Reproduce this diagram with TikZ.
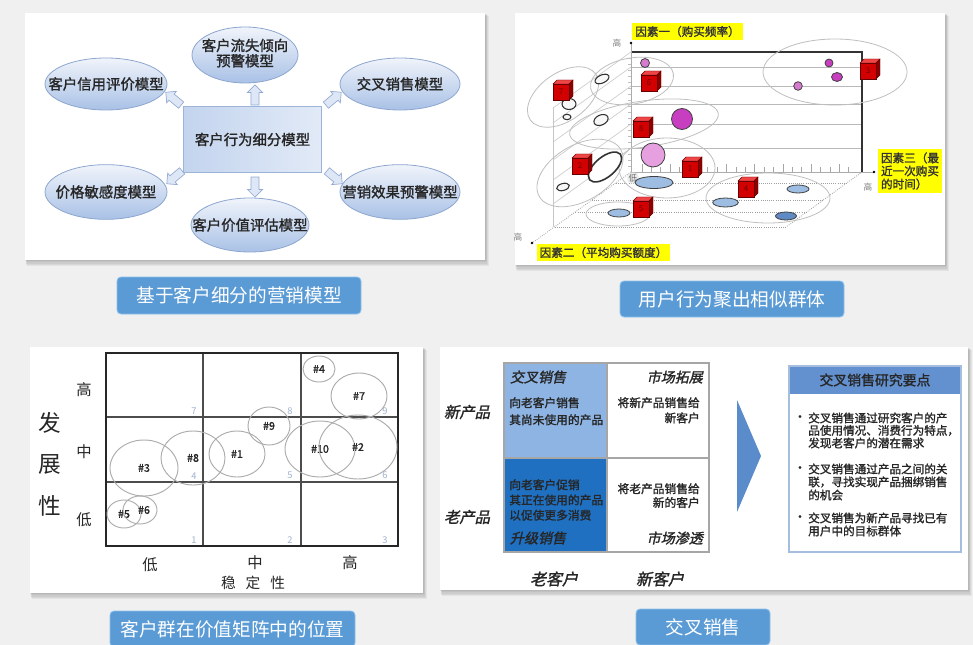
\documentclass[tikz,border=0pt]{standalone}
\usepackage{fontspec}
\setmainfont{Noto Sans CJK SC}[AutoFakeBold=1.5,AutoFakeSlant=0.22]
\newfontfamily\bulletfont{DejaVu Sans}
\usetikzlibrary{shapes.geometric,shapes.arrows}
\definecolor{bgc}{HTML}{F0F0F0}
\definecolor{btnc}{HTML}{5B9BD5}
\definecolor{btnline}{HTML}{8CC0EE}
\definecolor{elltop}{HTML}{F0F4FB}
\definecolor{ellbot}{HTML}{A9C1E6}
\definecolor{elldraw}{HTML}{8DA6CF}
\definecolor{recta}{HTML}{C3D4EE}
\definecolor{rectb}{HTML}{E2EAF7}
\definecolor{rectdraw}{HTML}{9DB3D8}
\definecolor{arrfill}{HTML}{DEE7F6}
\definecolor{arrdraw}{HTML}{93AAD2}
\definecolor{ylw}{HTML}{FFFF00}
\definecolor{cubered}{HTML}{D20000}
\definecolor{cubetop}{HTML}{F04545}
\definecolor{cubeside}{HTML}{8E0000}
\definecolor{pinkA}{HTML}{C83EC0}
\definecolor{pinkB}{HTML}{E6A0E0}
\definecolor{pinkC}{HTML}{D67AD0}
\definecolor{blueE}{HTML}{9DBDE3}
\definecolor{blueD}{HTML}{5F8AC4}
\definecolor{lightblue}{HTML}{8DB4E2}
\definecolor{darkblue}{HTML}{1F70C1}
\definecolor{chev}{HTML}{5A8BCB}
\definecolor{hdr}{HTML}{6391D0}
\definecolor{boxline}{HTML}{A5BEE0}
\definecolor{cellnum}{HTML}{9FB3CF}
\tikzset{pics/cube/.style={code={
  \filldraw[fill=cubetop, draw=black!60!red, line width=0.3pt] (-10,-6) -- (-6,-10) -- (10,-10) -- (6,-6) -- cycle;
  \filldraw[fill=cubeside, draw=black!60!red, line width=0.3pt] (6,-6) -- (10,-10) -- (10,6) -- (6,10) -- cycle;
  \filldraw[fill=cubered, draw=black!60!red, line width=0.3pt] (-10,-6) rectangle (6,10);
  \node[font=\fontsize{6}{6}\selectfont, text=black!55!red, inner sep=0pt] (n) at (-2,2) {#1};
}}}
\begin{document}
\begin{tikzpicture}[x=0.75pt,y=-0.75pt,
  ell/.style={ellipse, draw=elldraw, line width=0.6pt, top color=elltop, bottom color=ellbot, inner sep=0pt, font=\fontsize{10.8}{13.5}\selectfont\bfseries, text=black!85},
  ctr/.style={rectangle, draw=rectdraw, line width=0.6pt, left color=recta, right color=rectb, inner sep=0pt, font=\fontsize{10.8}{13.5}\selectfont\bfseries, text=black!85},
  barrow/.style={single arrow, draw=arrdraw, fill=arrfill, line width=0.5pt, inner sep=2.8pt, single arrow head extend=2.6pt, minimum height=15pt},
  btn/.style={rectangle, rounded corners=3pt, fill=btnc, draw=btnline, line width=0.6pt, text=white, font=\fontsize{14}{16}\selectfont, inner sep=0pt},
  ylab/.style={fill=ylw, inner sep=2.2pt, font=\fontsize{8.7}{10}\selectfont\bfseries, text=black!80},
  hi/.style={font=\fontsize{6.5}{7}\selectfont, text=gray, inner sep=0pt},
  clu/.style={draw=gray!50, line width=0.6pt},
  ring/.style={draw=black!80, line width=0.8pt, fill=gray!6},
  pk/.style={draw=black!75, line width=0.6pt},
  be/.style={draw=black!75, line width=0.6pt, fill=blueE},
  grp/.style={ellipse, draw=gray!65, line width=0.7pt, inner sep=0pt, font=\fontsize{8}{9}\selectfont\bfseries, text=black!85},
  ax/.style={font=\fontsize{11.5}{13}\selectfont, text=black!85, inner sep=0pt},
  cn/.style={font=\fontsize{7}{8}\selectfont, text=cellnum, inner sep=0pt},
  cellA/.style={font=\fontsize{8.8}{12.75}\selectfont\bfseries, text=black!85, inner sep=0pt},
  cellB/.style={font=\fontsize{8.8}{11.4}\selectfont\bfseries, text=black!85, inner sep=0pt},
  cellC/.style={font=\fontsize{8.8}{10.4}\selectfont\bfseries, text=black!85, inner sep=0pt},
  chd/.style={font=\fontsize{10.5}{12}\selectfont\bfseries\itshape, text=black!85, inner sep=0pt},
  rl/.style={font=\fontsize{11.5}{13}\selectfont\bfseries\itshape, text=black!85, inner sep=0pt},
  bl/.style={font=\fontsize{8.7}{10}\selectfont\bfseries, text=black!85, inner sep=0pt, anchor=west},
  bul/.style={font=\bulletfont\fontsize{7}{8}\selectfont, text=black!85, inner sep=0pt},
]
\useasboundingbox (0,0) rectangle (973,645);
\fill[bgc] (0,0) rectangle (973,645);
% panels with soft shadows
\foreach \a/\b/\c/\d in {25/13/485/260,515/13/945/265,30/347/423/593,440/347/968/590}{
  \foreach \k in {1,...,5}{\fill[black,opacity=0.05] (\a+0.3*\k,\b+0.6*\k) rectangle (\c+0.8*\k,\d+1.2*\k);}
  \fill[white] (\a,\b) rectangle (\c,\d);
}

% ================= Panel 1 =================
\node[ctr, minimum width=104pt, minimum height=49pt] (c) at (252.5,139.5) {客户行为细分模型};
\node[ell, minimum width=79.5pt, minimum height=42pt] (e1) at (245,55) {\makebox[0pt]{\begin{tabular}{@{}c@{}}客户流失倾向\\[-2pt]预警模型\end{tabular}}};
\node[ell, minimum width=91.5pt, minimum height=39pt] (e2) at (106,84) {\makebox[0pt]{客户信用评价模型}};
\node[ell, minimum width=90pt, minimum height=39pt] (e3) at (400,84) {\makebox[0pt]{交叉销售模型}};
\node[ell, minimum width=91.5pt, minimum height=41pt] (e4) at (106,192) {\makebox[0pt]{价格敏感度模型}};
\node[ell, minimum width=90pt, minimum height=41pt] (e5) at (400,192) {\makebox[0pt]{营销效果预警模型}};
\node[ell, minimum width=88.5pt, minimum height=40.5pt] (e6) at (250,225) {\makebox[0pt]{客户价值评估模型}};
\node[barrow, rotate=90] (au) at (255,97) {};
\node[barrow, rotate=270] (ad) at (255,185) {};
\node[barrow, rotate=140] (aul) at (175,100) {};
\node[barrow, rotate=40] (aur) at (332,100) {};
\node[barrow, rotate=220] (adl) at (176,176) {};
\node[barrow, rotate=320] (adr) at (333,176) {};

% ================= Panel 2 =================
\foreach \yy in {52,67,86,104,124,148} \draw[gray!40, line width=0.5pt] (631,\yy) -- ++(-78,56);
\draw[gray!45, line width=0.5pt] (553,108) -- (553,227);
\draw[gray!75, densely dotted, line width=0.6pt] (631,172) -- (532,243);
\draw[gray!75, densely dotted, line width=0.6pt] (862,172) -- (786,227);
\foreach \yy in {183,200,212,227} \draw[gray!75, densely dotted, line width=0.6pt] ({631-1.39*(\yy-172)},\yy) -- ({862-1.39*(\yy-172)},\yy);
\foreach \yy in {67,86,104,124,148} \draw[gray!55, line width=0.6pt] (631,\yy) -- (862,\yy);
\draw[black!80, line width=1.3pt] (631,52) -- (862,52) -- (862,172);
\draw[gray!65, line width=0.6pt] (631,43) -- (631,172) -- (874,172);
\foreach \yy in {58,64,...,170} \draw[gray!50, line width=0.4pt] (628,\yy) -- (631,\yy);
\foreach \i in {0,...,22}{
  \pgfmathsetmacro{\th}{mod(\i,3)==0 ? 8 : 5}
  \draw[gray!70, line width=0.5pt] (642+9.4*\i,172) -- ++(0,-\th);
}
\fill[black] (631,43) circle (1.3);
\fill[black] (874,172) circle (1.3);
\fill[black] (532,243) circle (1.3);
\node[hi] (h1) at (617,43) {高};
\node[hi] (h3) at (868,187) {高};
\node[hi] (h2) at (518,237) {高};
% clusters
\draw[clu, rotate around={35:(563,97)}] (563,97) ellipse [x radius=40, y radius=24];
\draw[clu, rotate around={10:(632,81)}] (632,81) ellipse [x radius=42, y radius=23];
\draw[clu, rotate around={8:(644,124)}] (644,124) ellipse [x radius=75, y radius=23];
\draw[clu, rotate around={30:(580,173)}] (580,173) ellipse [x radius=47, y radius=28];
\draw[clu] (667,168) ellipse [x radius=48, y radius=30];
\draw[clu] (618,214) ellipse [x radius=32, y radius=12];
\draw[clu] (768,198) ellipse [x radius=62, y radius=25];
\draw[clu] (835,72) ellipse [x radius=72, y radius=33];
% items
\draw[ring] (569,104) ellipse [x radius=7, y radius=5.5];
\draw[ring] (567,117) ellipse [x radius=4, y radius=2.7];
\draw[ring, rotate around={25:(602,79)}] (602,79) ellipse [x radius=7.5, y radius=4];
\draw[ring, rotate around={25:(601,120)}] (601,120) ellipse [x radius=7.5, y radius=5];
\draw[ring, line width=1.2pt, fill=white, rotate around={40:(605,167)}] (605,167) ellipse [x radius=20, y radius=10];
\draw[ring, rotate around={15:(563,187)}] (563,187) ellipse [x radius=6.5, y radius=3.5];
\draw[pk, fill=pinkC] (645,63) circle (4.5);
\draw[pk, fill=pinkA] (682,119) circle (10.5);
\draw[pk, fill=pinkB] (653,155) circle (12);
\draw[pk, fill=pinkA] (829,63) circle (4);
\draw[pk, fill=pinkA] (837,77) ellipse [x radius=5.5, y radius=4.5];
\draw[pk, fill=pinkC] (798,86) circle (4.3);
\node[fill=gray!15, rounded corners=3pt, inner sep=1pt, font=\fontsize{6.5}{7}\selectfont, text=gray!80!black] (low) at (633,178) {低};
\draw[be] (654,182.5) ellipse [x radius=19, y radius=6];
\draw[be] (619,213) ellipse [x radius=11, y radius=4];
\draw[be] (798,189) ellipse [x radius=11, y radius=4];
\draw[be] (725.5,202.5) ellipse [x radius=12.8, y radius=4.5];
\draw[be, fill=blueD] (786,216) ellipse [x radius=10.5, y radius=4];
\pic (k7) at (563,90) {cube=7};
\pic (k6) at (651,81) {cube=6};
\pic (k8) at (643,127) {cube=8};
\pic (k2) at (582,164) {cube=2};
\pic (k1) at (692,167) {cube=1};
\pic (k5) at (643,207) {cube=5};
\pic (k4) at (748,187) {cube=4};
\pic (k3) at (870,69) {cube=3};
\node[ylab] (f1) at (687.5,31.5) {因素一（购买频率）};
\node[ylab] (f2) at (603.5,252.5) {因素二（平均购买额度）};
\node[ylab, align=left, font=\fontsize{8.7}{9.8}\selectfont\bfseries] (f3) at (910,171) {因素三（最\\近一次购买\\的时间）};

% ================= Panel 3 =================
\draw[black!70, line width=0.8pt] (203,353) -- (203,546) (301,353) -- (301,546) (106,417) -- (398,417) (106,482) -- (398,482);
\draw[black!85, line width=1.6pt] (106,353) rectangle (398,546);
\node[cn] (n7) at (194,411) {7};
\node[cn] (n8) at (290,411) {8};
\node[cn] (n9) at (385,411) {9};
\node[cn] (n4) at (194,476) {4};
\node[cn] (n5) at (290,475) {5};
\node[cn] (n6) at (385,475) {6};
\node[cn] (n1) at (194,540) {1};
\node[cn] (n2) at (290,540) {2};
\node[cn] (n3) at (385,540) {3};
\node[grp, minimum width=24pt, minimum height=19.5pt] (g4) at (319,369) {\#4};
\node[grp, minimum width=42pt, minimum height=34.5pt] (g7) at (359,396) {\#7};
\node[grp, minimum width=31.5pt, minimum height=28.5pt] (g9) at (269,426) {\#9};
\node[grp, minimum width=52.5pt, minimum height=42pt] (g10) at (320,449) {\#10};
\node[grp, minimum width=58.5pt, minimum height=48pt] (g2) at (358,447) {\#2};
\node[grp, minimum width=42pt, minimum height=34.5pt] (g1) at (237,454) {\#1};
\node[grp, minimum width=48pt, minimum height=40.5pt] (g8) at (193,458) {\#8};
\node[grp, minimum width=51pt, minimum height=42pt] (g3) at (144,468) {\#3};
\node[grp, minimum width=25.5pt, minimum height=21pt] (g5) at (124,514) {\makebox[0pt]{\#5}};
\node[grp, minimum width=25.5pt, minimum height=21pt] (g6) at (140,510) {\makebox[0pt]{\hspace{6pt}\#6}};
\node[ax] (yh) at (84,390) {高};
\node[ax] (ym) at (84,452) {中};
\node[ax] (yl) at (84,520) {低};
\node[ax, font=\fontsize{17}{31}\selectfont, align=center] (yt) at (50,464) {发\\展\\性};
\node[ax] (xl) at (150,565) {低};
\node[ax] (xm) at (255,563) {中};
\node[ax] (xh) at (350,563) {高};
\node[ax, font=\fontsize{11}{12}\selectfont] (xt) at (253,583) {稳\hspace{7.5pt}定\hspace{7.5pt}性};

% ================= Panel 4 =================
\fill[lightblue] (504,363) rectangle (607,458);
\fill[darkblue] (504,458) rectangle (607,552);
\draw[gray!70, line width=0.8pt] (607,363) -- (607,552) (504,458) -- (709,458);
\draw[gray!70, line width=1pt] (504,363) rectangle (709,552);
\node[chd] (tlh) at (538,377) {交叉销售};
\node[cellA, anchor=north west, align=left] (tlb) at (509,397) {向老客户销售\\其尚未使用的产品};
\node[chd, anchor=east] (trh) at (703,377) {市场拓展};
\node[cellB, anchor=north east, align=right] (trb) at (700,397) {将新产品销售给\\新客户};
\node[cellB, anchor=north west, align=left] (blb) at (509,479) {向老客户促销\\其正在使用的产品\\以促使更多消费};
\node[chd] (blh) at (538,538) {升级销售};
\node[cellC, anchor=north east, align=right] (brb) at (700,483) {将老产品销售给\\新的客户};
\node[chd, anchor=east] (brh) at (703,538) {市场渗透};
\node[rl] (rn) at (467,412) {新产品};
\node[rl] (ro) at (467,517) {老产品};
\node[rl, font=\fontsize{12}{13}\selectfont\bfseries\itshape] (co) at (554,579) {老客户};
\node[rl, font=\fontsize{12}{13}\selectfont\bfseries\itshape] (cn) at (660,579) {新客户};
\fill[chev] (737,400) -- (761,456) -- (737,512) -- cycle;
\fill[white] (789,366) rectangle (961,552);
\fill[hdr] (789,366) rectangle (961,394);
\draw[boxline, line width=0.8pt] (789,366) rectangle (961,552);
\node[font=\fontsize{10.4}{12}\selectfont\bfseries, text=black!85, inner sep=0pt] (hd) at (875,380) {交叉销售研究要点};
\node[bul] (d1) at (800,418) {•};
\node[bul] (d2) at (800,469) {•};
\node[bul] (d3) at (800,518) {•};
\node[bl] (l1) at (808,418) {交叉销售通过研究客户的产};
\node[bl] (l2) at (808,430.5) {品使用情况、消费行为特点，};
\node[bl] (l3) at (808,443) {发现老客户的潜在需求};
\node[bl] (l4) at (808,469) {交叉销售通过产品之间的关};
\node[bl] (l5) at (808,482) {联，寻找实现产品捆绑销售};
\node[bl] (l6) at (808,495) {的机会};
\node[bl] (l7) at (808,518) {交叉销售为新产品寻找已有};
\node[bl] (l8) at (808,531) {用户中的目标群体};

% ================= Buttons =================
\node[btn, minimum width=183pt, minimum height=27.75pt] (b1) at (239,295.5) {基于客户细分的营销模型};
\node[btn, minimum width=168pt, minimum height=27pt] (b2) at (732,299) {用户行为聚出相似群体};
\node[btn, minimum width=183.75pt, minimum height=27pt] (b3) at (232.5,629) {客户群在价值矩阵中的位置};
\node[btn, minimum width=100.5pt, minimum height=27pt] (b4) at (703,627) {交叉销售};
\end{tikzpicture}
\end{document}
